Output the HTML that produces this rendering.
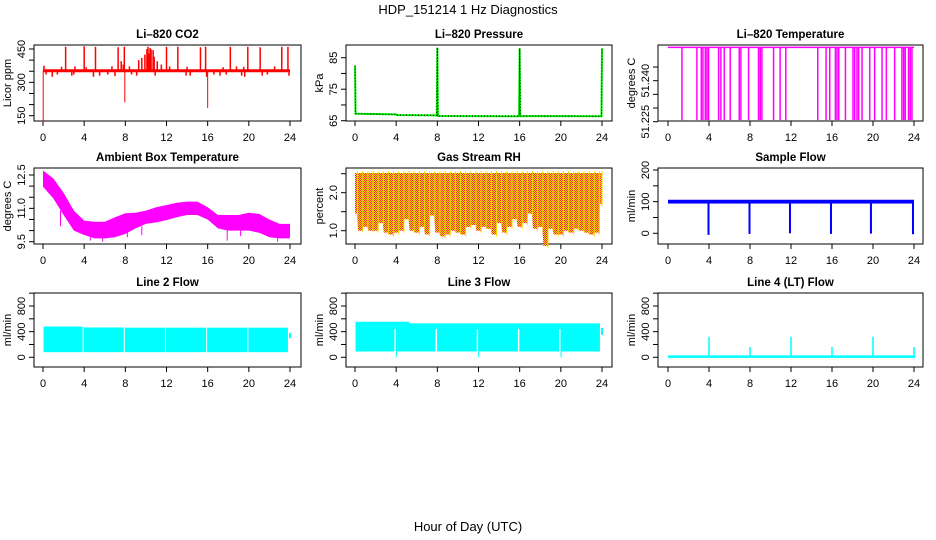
<!DOCTYPE html>
<html><head><meta charset="utf-8"><title>HDP_151214 1 Hz Diagnostics</title>
<style>
html,body{margin:0;padding:0;background:#fff;}
svg{display:block;font-family:"Liberation Sans",Arial,sans-serif;}
</style></head>
<body>
<svg id="chart" width="936" height="540" viewBox="0 0 936 540" xmlns="http://www.w3.org/2000/svg">
<defs>
<pattern id="rhpat" width="2" height="2" patternUnits="userSpaceOnUse">
<rect width="2" height="2" fill="#ffd400"/><rect width="1" height="1" fill="#e8321e"/><rect x="1" y="1" width="1" height="1" fill="#e8321e"/>
</pattern>
</defs>
<text x="468" y="14" font-size="13" text-anchor="middle">HDP_151214  1 Hz Diagnostics</text>
<text x="468" y="531" font-size="13" text-anchor="middle">Hour of Day (UTC)</text>
<g id="panels"></g>
</svg>
<script>
// ---------- data ----------
const hourTicks = [0,4,8,12,16,20,24];
// CO2
const co2Base = 352;
const co2UpHours = [2.2,4.0,5.1,7.3,7.9,10.1,10.2,10.4,10.5,10.7,12.0,13.1,15.3,15.8,18.2,19.9,21.1,23.2,23.8];
const co2UpVals  = [460,462,460,458,460,450,460,455,448,445,460,460,458,460,460,460,458,460,460];
const co2MidHours = [0.1,1.8,3.1,4.2,6.7,7.6,7.8,8.4,9.3,9.6,9.9,10.3,10.8,11.1,11.5,12.3,14.0,17.5,18.8,19.5,22.5];
const co2MidVals  = [375,370,372,368,372,395,380,372,400,410,425,430,415,395,380,372,370,368,372,370,372];
const co2DipHours = [0.3,0.9,1.4,2.8,3.0,4.9,5.5,6.3,7.0,8.6,9.1,10.9,13.9,14.3,15.9,16.6,17.2,17.8,19.3,19.6,21.3,21.8,23.9];
const co2DipVals  = [335,325,335,330,335,325,330,335,328,335,330,330,330,330,325,335,330,335,330,325,330,335,330];
const co2DeepHours = [0.02,7.95,16.0];
const co2DeepVals  = [120,210,185];
// Pressure
const pressT = [0,0.02,0.05,0.1,4,4.05,7.95,8,8.05,15.95,16,16.05,23.95,24];
const pressV = [82.5,78,67.2,67.2,67,66.8,66.7,88.2,66.5,66.4,88,66.5,66.4,88];
// Li-820 temperature
const tempHigh = 51.2522;
const tempLow = 51.2256;
const tempDropHours = [1.36,2.82,3.25,3.41,3.64,3.8,3.96,4.94,5.16,5.49,6.07,6.95,7.11,7.86,8.83,9.0,9.16,10.3,10.94,11.49,14.61,15.42,15.78,16.33,16.49,16.66,17.31,18.05,18.21,18.44,18.6,18.93,19.68,20.16,20.88,21.3,22.11,22.82,22.99,23.15,23.47,23.64,23.8];
// Ambient box temperature envelope (hourly)
const ambHours = [0,1,2,3,4,5,6,7,8,9,10,11,12,13,14,15,16,17,18,19,20,21,22,23,24];
const ambUpper = [12.7,12.35,11.7,10.9,10.45,10.4,10.4,10.6,10.78,10.8,10.9,11.05,11.15,11.25,11.3,11.3,11.05,10.7,10.7,10.7,10.8,10.75,10.5,10.3,10.3];
const ambLower = [11.97,11.45,10.7,10.0,9.8,9.65,9.65,9.7,9.85,10.1,10.3,10.37,10.47,10.6,10.7,10.7,10.5,10.1,10.0,10.0,10.0,9.9,9.7,9.65,9.65];
const ambSpikeHours = [1.7,4.6,5.8,8.2,9.6,12.7,17.9,19.2,22.8];
const ambSpikeVals  = [10.9,9.55,9.5,9.7,9.8,10.2,9.55,9.75,9.5];
// Gas stream RH (half-hourly)
const rhTop = 2.52;
const rhHours = [0,0.5,1,1.5,2,2.5,3,3.5,4,4.5,5,5.5,6,6.5,7,7.5,8,8.5,9,9.5,10,10.5,11,11.5,12,12.5,13,13.5,14,14.5,15,15.5,16,16.5,17,17.5,18,18.5,19,19.5,20,20.5,21,21.5,22,22.5,23,23.5,24];
const rhLow = [1.45,1.0,1.1,1.0,1.0,1.2,0.95,0.9,0.95,1.0,1.3,1.0,0.95,1.1,0.9,1.4,0.95,0.85,0.9,1.0,0.95,0.9,1.1,1.15,1.0,1.1,1.05,0.9,1.2,0.95,1.1,1.3,1.1,1.2,1.45,1.05,1.1,0.6,1.05,0.9,0.9,1.0,0.95,1.05,1.0,0.95,0.9,0.95,1.7];
// Sample flow
const sfLow = 94, sfHigh = 106;
const sfDipHours = [3.95,7.95,11.9,15.9,19.8,23.9];
const sfDipVals  = [-5,-2,0,-2,-1,-3];
// Line 2 flow
const l2SegStart = [0.05,3.95,7.95,11.95,15.95,19.95];
const l2SegEnd   = [3.85,7.85,11.85,15.85,19.85,23.8];
const l2Top      = [480,465,462,462,462,462];
const l2Bottom   = 80;
// Line 3 flow
const l3TopT = [0.05,5.3,5.3,23.8];
const l3TopV = [555,555,530,530];
const l3Bottom = 90;
const l3GapHours = [3.9,7.9,11.9,15.9,19.9];
const l3GapDips  = [0,450,0,450,0];
// Line 4 flow
const l4Base = 10;
const l4SpikeHours = [4,8,12,16,20,24];
const l4SpikeVals  = [320,160,320,160,320,160];

// ---------- layout ----------
const NS = "http://www.w3.org/2000/svg";
const root = document.getElementById('panels');
const cols = [{bl:34,br:301,x0:43,x24:290},{bl:346,br:612,x0:355,x24:602},{bl:658,br:923,x0:668,x24:914}];
const rows = [{t:45,b:121},{t:168,b:244},{t:293,b:367}];

function el(tag, attrs, parent){
  const e = document.createElementNS(NS, tag);
  for (const k in attrs) e.setAttribute(k, attrs[k]);
  (parent||root).appendChild(e);
  return e;
}
const ylabelFmt = {
  'ambient-temp': v => v.toFixed(1),
  'gas-rh': v => v.toFixed(1),
  'li820-temp': v => v.toFixed(3)
};

function panel(ci, ri, name, title, ylab, v0, p0, v1, p1, yticks, ylabels){
  const c = cols[ci], r = rows[ri];
  const g = el('g', {});
  
  
  const xs = h => c.x0 + h/24*(c.x24-c.x0);
  const ys = v => p0 + (v-v0)/(v1-v0)*(p1-p0);
  const box = el('rect', {x:c.bl, y:r.t, width:c.br-c.bl, height:r.b-r.t, fill:'none', stroke:'#000', 'stroke-width':1}, g);
  
  
  const t = el('text', {x:(c.bl+c.br)/2, y:r.t-7, 'font-size':11.5, 'font-weight':'bold', 'text-anchor':'middle'}, g);
  t.textContent = title;
  
  
  const xa = el('g', {}, g);
  
  
  el('line', {x1:xs(0), x2:xs(24), y1:r.b, y2:r.b, stroke:'#000'}, xa);
  hourTicks.forEach(h => {
    el('line', {x1:xs(h), x2:xs(h), y1:r.b, y2:r.b+5, stroke:'#000'}, xa);
    const tl = el('text', {x:xs(h), y:r.b+20, 'font-size':11, 'text-anchor':'middle'}, xa);
    tl.textContent = h;
    
    
  });
  const ya = el('g', {}, g);
  
  
  yticks.forEach(v => el('line', {x1:c.bl-5, x2:c.bl, y1:ys(v), y2:ys(v), stroke:'#000'}, ya));
  ylabels.forEach(v => {
    const yy = ys(v), xx = c.bl-9;
    const tl = el('text', {x:xx, y:yy, 'font-size':11, 'text-anchor':'middle', transform:`rotate(-90 ${xx} ${yy})`}, ya);
    tl.textContent = ylabelFmt[name] ? ylabelFmt[name](v) : v;
    
    
  });
  const yt = el('text', {x:c.bl-23, y:(r.t+r.b)/2, 'font-size':11, 'text-anchor':'middle', transform:`rotate(-90 ${c.bl-23} ${(r.t+r.b)/2})`}, g);
  yt.textContent = ylab;
  
  
  const d = el('g', {}, g);
  
  
  return {xs, ys, g:d, c, r};
}
function vline(p, h, a, b, col, w){
  const l = el('line', {x1:p.xs(h), x2:p.xs(h), y1:p.ys(a), y2:p.ys(b), stroke:col, 'stroke-width':w||1}, p.g);
  
  
  return l;
}

// CO2
{
  const p = panel(0,0,'co2','Li\u2013820 CO2','Licor ppm',150,115.7,450,49,[150,200,250,300,350,400,450],[150,300,450]);
  co2UpHours.forEach((h,i)=>vline(p,h,co2Base,co2UpVals[i],'#ff0000',1.5));
  co2MidHours.forEach((h,i)=>vline(p,h,co2Base,co2MidVals[i],'#ff0000',1.5));
  co2DipHours.forEach((h,i)=>vline(p,h,co2Base,co2DipVals[i],'#ff0000',1.5));
  co2DeepHours.forEach((h,i)=>vline(p,h,co2Base,co2DeepVals[i],'#ff0000',1));
  const b = el('line',{x1:p.xs(0),x2:p.xs(24),y1:p.ys(co2Base),y2:p.ys(co2Base),stroke:'#ff0000','stroke-width':3},p.g);
  
  
}
// Pressure
{
  const p = panel(1,0,'pressure','Li\u2013820 Pressure','kPa',65,120.7,85,57.7,[65,70,75,80,85],[65,75,85]);
  const pts = pressT.map((h,i)=>p.xs(h)+','+p.ys(pressV[i])).join(' ');
  const l1 = el('polyline',{points:pts,fill:'none',stroke:'#00ee00','stroke-width':2},p.g);
  
  
  const l2 = el('polyline',{points:pts,fill:'none',stroke:'#000','stroke-width':1,'stroke-dasharray':'1 2'},p.g);
  
  
}
// Li-820 temperature
{
  const p = panel(2,0,'li820-temp','Li\u2013820 Temperature','degrees C',51.225,121.7,51.240,80.7,[51.225,51.230,51.235,51.240,51.245],[51.225,51.240]);
  tempDropHours.forEach(h=>vline(p,h,tempHigh,tempLow,'#ff00ff',1.5));
  const b = el('line',{x1:p.xs(0),x2:p.xs(24),y1:p.ys(tempHigh),y2:p.ys(tempHigh),stroke:'#ff00ff','stroke-width':1.5},p.g);
  
  
}
// Ambient
{
  const p = panel(0,1,'ambient-temp','Ambient Box Temperature','degrees C',9.5,241.7,12.5,175,[9.5,10,10.5,11,11.5,12,12.5],[9.5,11.0,12.5]);
  const pts = ambHours.map((h,i)=>p.xs(h)+','+p.ys(ambUpper[i])).concat(ambHours.slice().reverse().map((h,j)=>{const i=ambHours.length-1-j;return p.xs(h)+','+p.ys(ambLower[i]);})).join(' ');
  const poly = el('polygon',{points:pts,fill:'#ff00ff'},p.g);
  
  
  ambSpikeHours.forEach((h,i)=>vline(p,h,10.2,ambSpikeVals[i],'#ff00ff',1));
}
// Gas RH
{
  const p = panel(1,1,'gas-rh','Gas Stream RH','percent',1.0,230.7,2.0,192.7,[1.0,1.5,2.0,2.5],[1.0,2.0]);
  let pts = [p.xs(0)+','+p.ys(rhTop), p.xs(24)+','+p.ys(rhTop)];
  for (let i=rhHours.length-1;i>=0;i--){
    const h = rhHours[i];
    pts.push(p.xs(Math.min(24,h+0.2))+','+p.ys(rhLow[i]));
    pts.push(p.xs(Math.max(0,h-0.2))+','+p.ys(rhLow[i]));
  }
  const poly = el('polygon',{points:pts.join(' '),fill:'url(#rhpat)'},p.g);
  
  
  rhHours.forEach((h,i)=>vline(p,h+0.25>24?24:h+0.25,rhTop+0.05,rhLow[i]-0.05,'#ffd400',1));
}
// Sample flow
{
  const p = panel(2,1,'sample-flow','Sample Flow','ml/min',0,233.3,200,170,[0,50,100,150,200],[0,100,200]);
  const r = el('rect',{x:p.xs(0),y:p.ys(sfHigh),width:p.xs(24)-p.xs(0),height:p.ys(sfLow)-p.ys(sfHigh),fill:'#0000ff'},p.g);
  
  
  sfDipHours.forEach((h,i)=>vline(p,h,100,sfDipVals[i],'#0000ff',2));
}
// Line 2
{
  const p = panel(0,2,'line2-flow','Line 2 Flow','ml/min',0,357.3,800,306,[0,200,400,600,800,1000],[0,400,800]);
  l2SegStart.forEach((s,i)=>{
    const r = el('rect',{x:p.xs(s),y:p.ys(l2Top[i]),width:p.xs(l2SegEnd[i])-p.xs(s),height:p.ys(l2Bottom)-p.ys(l2Top[i]),fill:'#00ffff'},p.g);
    
    
  });
  vline(p,24,300,380,'#00ffff',2);
}
// Line 3
{
  const p = panel(1,2,'line3-flow','Line 3 Flow','ml/min',0,357.3,800,306,[0,200,400,600,800,1000],[0,400,800]);
  const pts = l3TopT.map((h,i)=>p.xs(h)+','+p.ys(l3TopV[i])).concat([p.xs(23.8)+','+p.ys(l3Bottom),p.xs(0.05)+','+p.ys(l3Bottom)]).join(' ');
  const poly = el('polygon',{points:pts,fill:'#00ffff'},p.g);
  
  
  l3GapHours.forEach((h,i)=>{
    vline(p,h,440,l3Bottom,'#ffffff',1.5);
    vline(p,h+0.12,440,l3GapDips[i],'#00ffff',1);
  });
  vline(p,24,350,460,'#00ffff',2);
}
// Line 4
{
  const p = panel(2,2,'line4-flow','Line 4 (LT) Flow','ml/min',0,357.3,800,306,[0,200,400,600,800,1000],[0,400,800]);
  const b = el('line',{x1:p.xs(0),x2:p.xs(24.1),y1:p.ys(l4Base),y2:p.ys(l4Base),stroke:'#00ffff','stroke-width':2.5},p.g);
  
  
  l4SpikeHours.forEach((h,i)=>vline(p,h,l4Base,l4SpikeVals[i],'#00ffff',1.5));
}
</script>
</body></html>
